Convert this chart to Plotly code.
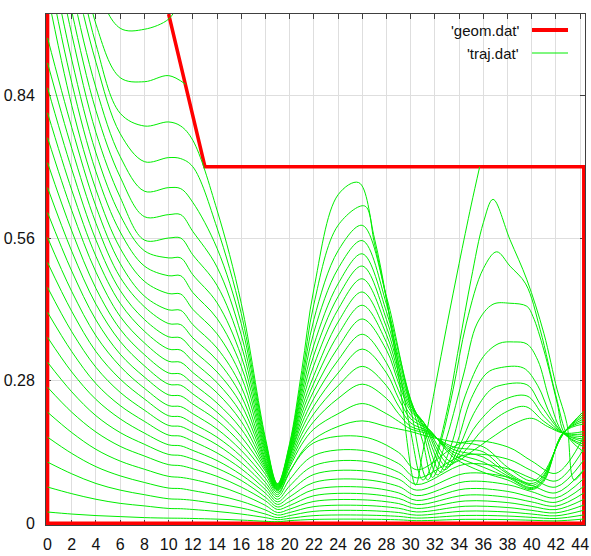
import plotly.graph_objects as go

# ---------------- geometry ('geom.dat') ----------------
geom_x = [10.0, 13.0, 44.3, 44.3, 0.0, 0.0]
geom_y = [1.0, 0.7, 0.7, 0.0, 0.0, 1.0]

# ---------------- trajectories ('traj.dat') ----------------
# left part, shared x knots (curves 0..27)
X_LEFT = [0, 2, 4, 6, 8, 10, 11, 12, 14, 16, 18, 19]
Y_LEFT = [
    [0.022, 0.018, 0.015, 0.013, 0.011, 0.010, 0.0098, 0.0093, 0.008, 0.0062, 0.0038, 0.003],
    [0.071, 0.058, 0.047, 0.039, 0.034, 0.029, 0.0285, 0.027, 0.023, 0.018, 0.011, 0.007],
    [0.120, 0.097, 0.078, 0.065, 0.056, 0.048, 0.047, 0.045, 0.038, 0.030, 0.018, 0.011],
    [0.169, 0.137, 0.111, 0.093, 0.080, 0.069, 0.068, 0.064, 0.055, 0.043, 0.026, 0.016],
    [0.218, 0.178, 0.145, 0.122, 0.106, 0.092, 0.090, 0.086, 0.074, 0.057, 0.035, 0.021],
    [0.267, 0.218, 0.179, 0.151, 0.132, 0.115, 0.113, 0.107, 0.092, 0.071, 0.044, 0.027],
    [0.316, 0.258, 0.211, 0.178, 0.155, 0.135, 0.133, 0.126, 0.108, 0.084, 0.051, 0.032],
    [0.365, 0.297, 0.243, 0.205, 0.177, 0.154, 0.152, 0.143, 0.123, 0.095, 0.059, 0.037],
    [0.414, 0.337, 0.274, 0.231, 0.200, 0.173, 0.171, 0.161, 0.138, 0.107, 0.066, 0.042],
    [0.463, 0.376, 0.306, 0.257, 0.222, 0.192, 0.190, 0.179, 0.154, 0.119, 0.073, 0.047],
    [0.512, 0.416, 0.337, 0.283, 0.244, 0.211, 0.209, 0.196, 0.169, 0.131, 0.080, 0.052],
    [0.561, 0.455, 0.368, 0.308, 0.265, 0.231, 0.229, 0.215, 0.185, 0.143, 0.088, 0.056],
    [0.610, 0.495, 0.399, 0.332, 0.287, 0.252, 0.250, 0.234, 0.202, 0.156, 0.096, 0.060],
    [0.659, 0.534, 0.430, 0.357, 0.309, 0.273, 0.271, 0.254, 0.218, 0.170, 0.102, 0.063],
    [0.708, 0.574, 0.461, 0.381, 0.331, 0.295, 0.293, 0.274, 0.236, 0.185, 0.106, 0.065],
    [0.757, 0.614, 0.493, 0.406, 0.354, 0.318, 0.316, 0.296, 0.256, 0.200, 0.110, 0.066],
    [0.806, 0.654, 0.524, 0.432, 0.377, 0.342, 0.340, 0.318, 0.276, 0.216, 0.114, 0.067],
    [0.855, 0.695, 0.556, 0.457, 0.400, 0.366, 0.364, 0.340, 0.297, 0.233, 0.118, 0.068],
    [0.904, 0.736, 0.589, 0.483, 0.425, 0.392, 0.390, 0.364, 0.320, 0.250, 0.122, 0.069],
    [0.953, 0.777, 0.622, 0.510, 0.446, 0.419, 0.418, 0.390, 0.344, 0.268, 0.126, 0.070],
    [1.040, 0.820, 0.655, 0.540, 0.475, 0.451, 0.450, 0.420, 0.372, 0.288, 0.132, 0.071],
    [1.090, 0.865, 0.690, 0.572, 0.505, 0.486, 0.486, 0.453, 0.402, 0.308, 0.137, 0.072],
    [1.140, 0.910, 0.727, 0.605, 0.535, 0.521, 0.521, 0.488, 0.433, 0.328, 0.142, 0.073],
    [1.190, 0.960, 0.767, 0.640, 0.556, 0.560, 0.560, 0.527, 0.467, 0.349, 0.147, 0.074],
    [1.240, 1.005, 0.810, 0.680, 0.602, 0.606, 0.606, 0.573, 0.503, 0.370, 0.152, 0.075],
    [1.290, 1.050, 0.855, 0.720, 0.652, 0.659, 0.657, 0.630, 0.540, 0.392, 0.157, 0.076],
    [1.340, 1.100, 0.905, 0.765, 0.710, 0.718, 0.716, 0.700, 0.580, 0.412, 0.162, 0.077],
    [1.400, 1.150, 0.940, 0.805, 0.780, 0.788, 0.780, 0.752, 0.615, 0.432, 0.167, 0.078],
]

# right part of the lower curves 0..11
X_LOW = [20, 22, 26, 29, 30.5, 34.5, 38, 40, 42, 44.3]
Y_LOW = [
    [0.005, 0.0074, 0.008, 0.0067, 0.005, 0.0076, 0.007, 0.0058, 0.0046, 0.0082],
    [0.0096, 0.0149, 0.016, 0.0134, 0.0101, 0.0152, 0.0141, 0.0115, 0.0093, 0.0163],
    [0.015, 0.0233, 0.025, 0.021, 0.0158, 0.0238, 0.022, 0.018, 0.0145, 0.0255],
    [0.021, 0.0326, 0.035, 0.0294, 0.0221, 0.0333, 0.0308, 0.0252, 0.0203, 0.0357],
    [0.0276, 0.0428, 0.046, 0.0386, 0.029, 0.0437, 0.0405, 0.0331, 0.0267, 0.0469],
    [0.0348, 0.054, 0.058, 0.0487, 0.0365, 0.0551, 0.051, 0.0418, 0.0336, 0.0592],
    [0.0426, 0.066, 0.071, 0.0596, 0.0447, 0.0675, 0.0625, 0.0511, 0.0412, 0.0724],
    [0.0516, 0.080, 0.086, 0.0722, 0.0542, 0.0817, 0.0757, 0.0619, 0.0499, 0.0877],
    [0.0618, 0.0958, 0.103, 0.0865, 0.0649, 0.0979, 0.0906, 0.0742, 0.0597, 0.105],
    [0.0732, 0.113, 0.122, 0.100, 0.076, 0.116, 0.107, 0.088, 0.071, 0.124],
    [0.0858, 0.133, 0.143, 0.117, 0.089, 0.134, 0.126, 0.103, 0.083, 0.146],
    [0.102, 0.158, 0.170, 0.139, 0.105, 0.160, 0.150, 0.122, 0.098, 0.170],
]

# right part of the middle curves 12..17
X_MID = [20, 21, 22, 24, 26, 28, 29, 30, 31.5, 33.5, 36, 38, 40, 41, 42.6, 44.3]
Y_MID = [
    [0.100, 0.140, 0.165, 0.190, 0.201, 0.190, 0.185, 0.180, 0.170, 0.160, 0.150, 0.110, 0.083, 0.100, 0.175, 0.220],
    [0.110, 0.155, 0.185, 0.215, 0.235, 0.215, 0.200, 0.185, 0.175, 0.150, 0.140, 0.100, 0.078, 0.095, 0.176, 0.215],
    [0.115, 0.165, 0.200, 0.245, 0.273, 0.245, 0.215, 0.190, 0.178, 0.145, 0.130, 0.097, 0.074, 0.092, 0.177, 0.210],
    [0.120, 0.175, 0.215, 0.270, 0.308, 0.270, 0.230, 0.197, 0.180, 0.140, 0.120, 0.093, 0.070, 0.088, 0.177, 0.205],
    [0.125, 0.185, 0.230, 0.295, 0.342, 0.295, 0.245, 0.205, 0.183, 0.135, 0.110, 0.090, 0.068, 0.085, 0.178, 0.200],
    [0.130, 0.195, 0.245, 0.320, 0.371, 0.315, 0.260, 0.212, 0.185, 0.130, 0.100, 0.085, 0.066, 0.082, 0.178, 0.195],
]

# right part of the upper curves 18..27 (each with its own knots)
X_UP = [
    [20, 21, 22, 24, 26, 28, 29, 30, 31, 33.4, 35, 36.5, 38.5, 40, 41.3, 42.6, 44.3],
    [20, 21, 22, 24, 26, 28, 29, 30, 31, 33.2, 34.6, 36, 38, 39.5, 41, 42.6, 44.3],
    [20, 21, 22, 24, 26, 28, 29, 30, 31, 33, 34.3, 35.5, 37.5, 39.6, 41, 42.6, 44.3],
    [20, 21, 22, 24, 26, 28, 29, 30, 31, 32.8, 34, 35.2, 36.5, 37.3, 39.6, 40.8, 42.6, 44.3],
    [20, 21, 22, 24, 26, 28, 29, 30, 31, 32.5, 33.7, 35, 36.3, 37.3, 39.3, 40.5, 41.6, 42.6, 44.3],
    [20, 21, 22, 24, 26, 28, 29, 30, 31, 32.2, 33.3, 34.5, 36, 37.3, 38.5, 39.6, 40.5, 41.5, 42.6, 44.3],
    [20, 21, 22, 24, 26, 28, 29, 30, 31, 31.8, 33, 34.4, 35.5, 36.8, 38.2, 39.6, 40.1, 41, 42.1, 42.7, 44.3],
    [20, 21, 22, 24, 26, 28, 29, 30, 31.4, 32.5, 33.5, 34.6, 36, 37.1, 38.2, 39.5, 40.7, 42, 43, 44.3],
    [20, 21, 22, 24, 26.2, 27, 28, 29, 30, 31, 32, 33, 34, 35, 36, 36.8, 38.2, 39.6, 41, 42.1, 42.9, 43.5, 44.3],
    [20, 21, 22, 24, 25.7, 27, 28, 29, 30.4, 31, 32, 33, 34, 35, 35.7],
]
Y_UP = [
    [0.130, 0.205, 0.26, 0.345, 0.401, 0.34, 0.275, 0.22, 0.20, 0.12, 0.14, 0.165, 0.195, 0.206, 0.19, 0.177, 0.18],
    [0.133, 0.215, 0.275, 0.37, 0.428, 0.355, 0.285, 0.225, 0.20, 0.115, 0.145, 0.185, 0.22, 0.229, 0.20, 0.177, 0.175],
    [0.136, 0.225, 0.29, 0.395, 0.454, 0.37, 0.295, 0.23, 0.20, 0.11, 0.15, 0.195, 0.24, 0.25, 0.21, 0.177, 0.17],
    [0.139, 0.235, 0.31, 0.42, 0.48, 0.385, 0.305, 0.235, 0.195, 0.105, 0.15, 0.215, 0.26, 0.27, 0.272, 0.23, 0.177, 0.165],
    [0.142, 0.245, 0.33, 0.445, 0.505, 0.40, 0.315, 0.24, 0.19, 0.10, 0.15, 0.245, 0.295, 0.305, 0.305, 0.27, 0.21, 0.177, 0.16],
    [0.145, 0.255, 0.35, 0.47, 0.529, 0.415, 0.325, 0.243, 0.18, 0.095, 0.15, 0.25, 0.327, 0.353, 0.356, 0.352, 0.32, 0.24, 0.177, 0.155],
    [0.148, 0.265, 0.375, 0.50, 0.555, 0.43, 0.335, 0.24, 0.16, 0.09, 0.17, 0.295, 0.393, 0.43, 0.432, 0.426, 0.406, 0.34, 0.236, 0.177, 0.15],
    [0.151, 0.275, 0.40, 0.535, 0.585, 0.445, 0.34, 0.225, 0.085, 0.16, 0.262, 0.393, 0.50, 0.533, 0.505, 0.47, 0.38, 0.25, 0.17, 0.14],
    [0.154, 0.285, 0.43, 0.585, 0.623, 0.55, 0.44, 0.31, 0.18, 0.085, 0.13, 0.22, 0.35, 0.48, 0.59, 0.636, 0.557, 0.478, 0.373, 0.262, 0.196, 0.085, 0.105],
    [0.157, 0.30, 0.46, 0.645, 0.669, 0.56, 0.44, 0.29, 0.075, 0.14, 0.265, 0.39, 0.51, 0.625, 0.70],
]

# the two top curves that end at the inclined wall
X_TOP = [[0, 2, 4, 6, 8, 10, 11.4], [0, 2, 4, 6, 8, 10, 10.8]]
Y_TOP = [[1.46, 1.21, 0.98, 0.875, 0.867, 0.879, 0.862], [1.55, 1.30, 1.06, 0.972, 0.970, 0.990, 1.02]]

X_TICKS = list(range(0, 45, 2))
Y_TICKS = [0, 0.28, 0.56, 0.84]
Y_TICKTEXT = ["0", "0.28", "0.56", "0.84"]

# ---------------- assemble curves ----------------
curves = []
for k in range(28):
    xs = list(X_LEFT)
    ys = list(Y_LEFT[k])
    if k < 12:
        xs += X_LOW
        ys += Y_LOW[k]
    elif k < 18:
        xs += X_MID
        ys += Y_MID[k - 12]
    else:
        xs += X_UP[k - 18]
        ys += Y_UP[k - 18]
    curves.append((xs, ys))
for xs, ys in zip(X_TOP, Y_TOP):
    curves.append((xs, ys))

GREEN = "#00ee00"
RED = "#ff0000"

fig = go.Figure()
fig.add_trace(go.Scatter(x=geom_x, y=geom_y, mode="lines", name="'geom.dat'",
                         line=dict(color=RED, width=3.5), showlegend=False,
                         hoverinfo="skip"))
for xs, ys in curves:
    fig.add_trace(go.Scatter(x=xs, y=ys, mode="lines", name="'traj.dat'",
                             line=dict(color=GREEN, width=1, shape="spline", smoothing=1.0),
                             showlegend=False, hoverinfo="skip"))

FONT = "Liberation Sans Narrow, Liberation Sans, Arial, sans-serif"
W, H = 591, 556
ML, MR, MT, MB = 46, 6, 14, 31
PW, PH = W - ML - MR, H - MT - MB


def px(xp):
    return (xp - ML) / PW


def py(yp):
    return 1 - (yp - MT) / PH


fig.update_layout(
    width=W, height=H,
    margin=dict(l=ML, r=MR, t=MT, b=MB, pad=0, autoexpand=False),
    paper_bgcolor="white", plot_bgcolor="white",
    showlegend=False,
    font=dict(family=FONT, size=16, color="#111111"),
    xaxis=dict(range=[-0.13, 44.4], tickvals=X_TICKS, ticktext=[str(v) for v in X_TICKS],
               showgrid=True, gridcolor="#dedede", gridwidth=1, zeroline=False,
               showline=True, linecolor="#404040", linewidth=1, mirror="ticks",
               ticks="inside", ticklen=5, tickcolor="#404040", layer="below traces",
               automargin=False,
               ticklabelstandoff=5, tickfont=dict(family=FONT, size=16)),
    yaxis=dict(range=[-0.0035, 1.0], tickvals=Y_TICKS, ticktext=Y_TICKTEXT,
               showgrid=True, gridcolor="#dedede", gridwidth=1, zeroline=False,
               showline=True, linecolor="#404040", linewidth=1, mirror="ticks",
               ticks="inside", ticklen=5, tickcolor="#404040", layer="below traces",
               automargin=False,
               ticklabelstandoff=7, tickfont=dict(family=FONT, size=16)),
)

# gnuplot-style key (text on the left, sample on the right)
fig.add_shape(type="rect", xref="paper", yref="paper", x0=px(456), x1=px(582), y0=py(65), y1=py(15),
              fillcolor="white", line=dict(width=0), layer="between")
fig.add_shape(type="line", xref="paper", yref="paper", x0=px(532), x1=px(568), y0=py(30), y1=py(30),
              line=dict(color=RED, width=4), layer="above")
fig.add_shape(type="line", xref="paper", yref="paper", x0=px(532), x1=px(568), y0=py(53), y1=py(53),
              line=dict(color=GREEN, width=1), layer="above")
fig.add_annotation(x=px(521), y=py(30), xref="paper", yref="paper", text="'geom.dat'",
                   showarrow=False, xanchor="right", yanchor="middle",
                   font=dict(family=FONT, size=15, color="#111111"))
fig.add_annotation(x=px(521), y=py(53), xref="paper", yref="paper", text="'traj.dat'",
                   showarrow=False, xanchor="right", yanchor="middle",
                   font=dict(family=FONT, size=15, color="#111111"))

fig.write_html("out.html")
